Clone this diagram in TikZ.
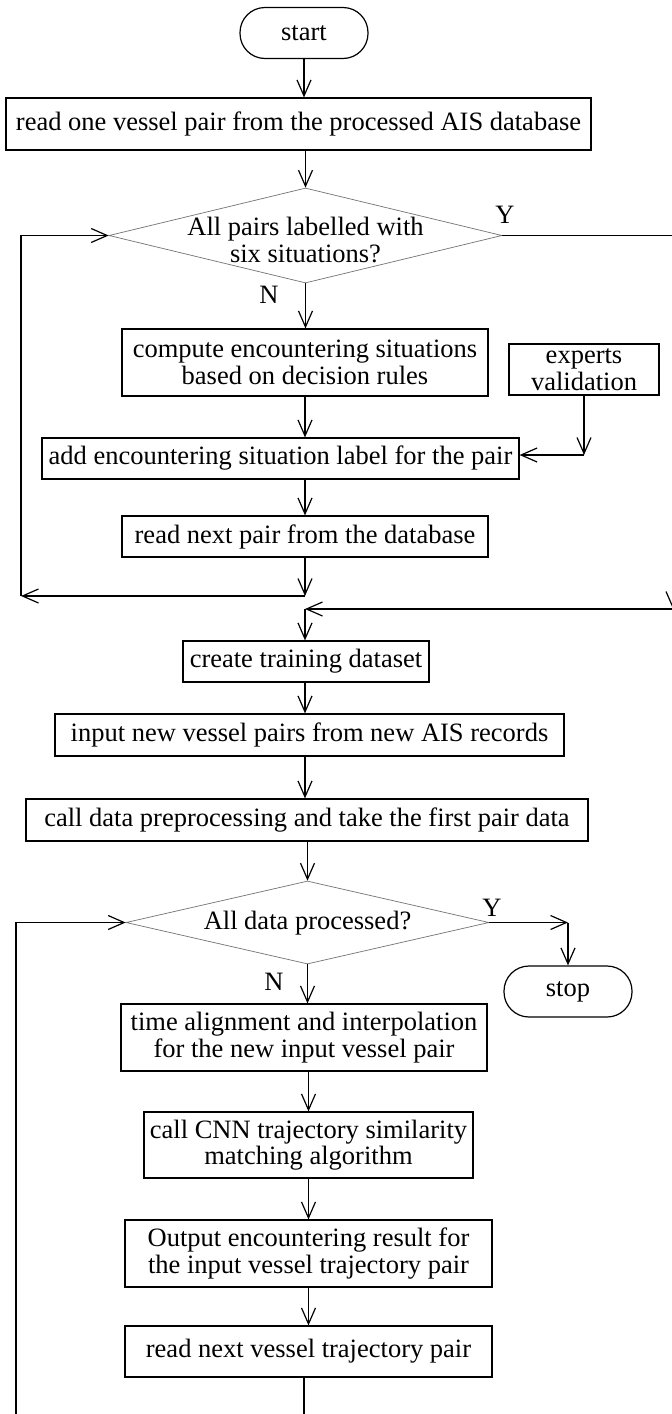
\documentclass[tikz,border=0pt]{standalone}
\usepackage{fontspec}
\setmainfont{Liberation Serif}
\usetikzlibrary{shapes.geometric,arrows.meta}

\begin{document}
\begin{tikzpicture}[x=1pt,y=-1pt,
  font=\fontsize{26.5}{26.5}\selectfont,
  box/.style={draw, line width=1.2pt, inner sep=0pt, align=center},
  term/.style={box, rounded corners=25pt},
  dec/.style={draw=black!55, line width=0.7pt, shape=diamond, inner sep=0pt},
  link/.style={line width=1.2pt},
  arr/.style={link, -{Straight Barb[length=16pt,width=14pt]}},
  tag/.style={inner sep=0pt}]

\useasboundingbox (0,0) rectangle (672,1414);
\fill[white] (0,0) rectangle (672,1414);
\clip (0,0) rectangle (672,1414);

% ---- labelling stage ----
\node[term, minimum width=128pt, minimum height=51pt] (start) at (304,33) {start};
\node[box, minimum width=585pt, minimum height=52pt] (b1) at (298.5,124)
  {read one vessel pair from the processed AIS database};
\node[dec, minimum width=393pt, minimum height=95pt] (d1) at (305.5,235.5) {};
\node[tag, align=center] (d1t) at (305.5,240) {All pairs labelled with\\six situations?};
\node[box, minimum width=366pt, minimum height=67pt] (b2) at (305,362.5)
  {compute encountering situations\\based on decision rules};
\node[box, minimum width=150pt, minimum height=51pt] (ex) at (584,369.5)
  {experts\\validation};
\node[box, minimum width=477pt, minimum height=41pt] (b3) at (280.5,458.5)
  {add encountering situation label for the pair};
\node[box, minimum width=366pt, minimum height=41pt] (b4) at (305,536.5)
  {read next pair from the database};

\node[tag] (y1) at (505,215) {Y};
\node[tag] (n1) at (269,295) {N};

% ---- classification stage ----
\node[box, minimum width=246pt, minimum height=41pt] (b5) at (306,661.5)
  {create training dataset};
\node[box, minimum width=509pt, minimum height=42pt] (b6) at (309.5,735)
  {input new vessel pairs from new AIS records};
\node[box, minimum width=562pt, minimum height=42pt] (b7) at (307,820)
  {call data preprocessing and take the first pair data};
\node[dec, minimum width=363pt, minimum height=83pt] (d2) at (307.5,922.5) {};
\node[tag] (d2t) at (307.5,923) {All data processed?};
\node[term, minimum width=128pt, minimum height=51pt] (stop) at (568,991.5) {stop};
\node[box, minimum width=366pt, minimum height=67pt] (b8) at (304,1037.5)
  {time alignment and interpolation\\for the new input vessel pair};
\node[box, minimum width=329pt, minimum height=66pt] (b9) at (308.5,1145)
  {call CNN trajectory similarity\\matching algorithm};
\node[box, minimum width=367pt, minimum height=67pt] (b10) at (308.5,1253.5)
  {Output encountering result for\\the input vessel trajectory pair};
\node[box, minimum width=367pt, minimum height=51pt] (b11) at (308.5,1351.5)
  {read next vessel trajectory pair};

\node[tag] (y2) at (492,908) {Y};
\node[tag] (n2) at (274,982) {N};

% ---- junction points ----
\coordinate (jA) at (305,596);
\coordinate (cA) at (21,596);
\coordinate (rB) at (673,609);
\coordinate (jB) at (305,609);
\coordinate (ec) at (584,455);
\coordinate (sc) at (568,922.5);
\coordinate (bo) at (304,1440);
\coordinate (bl) at (16,1440);

% ---- connectors: labelling stage ----
\draw[arr] (start.south) -- (start.south |- b1.north);
\draw[arr] (d1.north |- b1.south) -- (d1.north);
\draw[arr] (d1.south) -- (d1.south |- b2.north);
\draw[arr] (b2.south) -- (b2.south |- b3.north);
\draw[arr] (b4.north |- b3.south) -- (b4.north);
\draw[arr] (ex.south) -- (ec);
\draw[arr] (ec) -- (b3.east |- ec);
\draw[arr] (b4.south) -- (jA);
\draw[arr] (jA) -- (cA);
\draw[arr] (cA) |- (d1.west);
\draw[arr] (d1.east) -| (rB);
\draw[arr] (rB) -- (jB);
\draw[arr] (jB) -- (jB |- b5.north);

% ---- connectors: classification stage ----
\draw[arr] (jB |- b5.south) -- (jB |- b6.north);
\draw[arr] (jB |- b6.south) -- (jB |- b7.north);
\draw[arr] (d2.north |- b7.south) -- (d2.north);
\draw[arr] (d2.east) -- (sc);
\draw[arr] (sc) -- (stop.north);
\draw[arr] (d2.south) -- (d2.south |- b8.north);
\draw[arr] (b9.north |- b8.south) -- (b9.north);
\draw[arr] (b9.south) -- (b10.north);
\draw[arr] (b10.south) -- (b11.north);
\draw[link] (bo |- b11.south) -- (bo) -- (bl);
\draw[arr] (bl) |- (d2.west);

\end{tikzpicture}
\end{document}
